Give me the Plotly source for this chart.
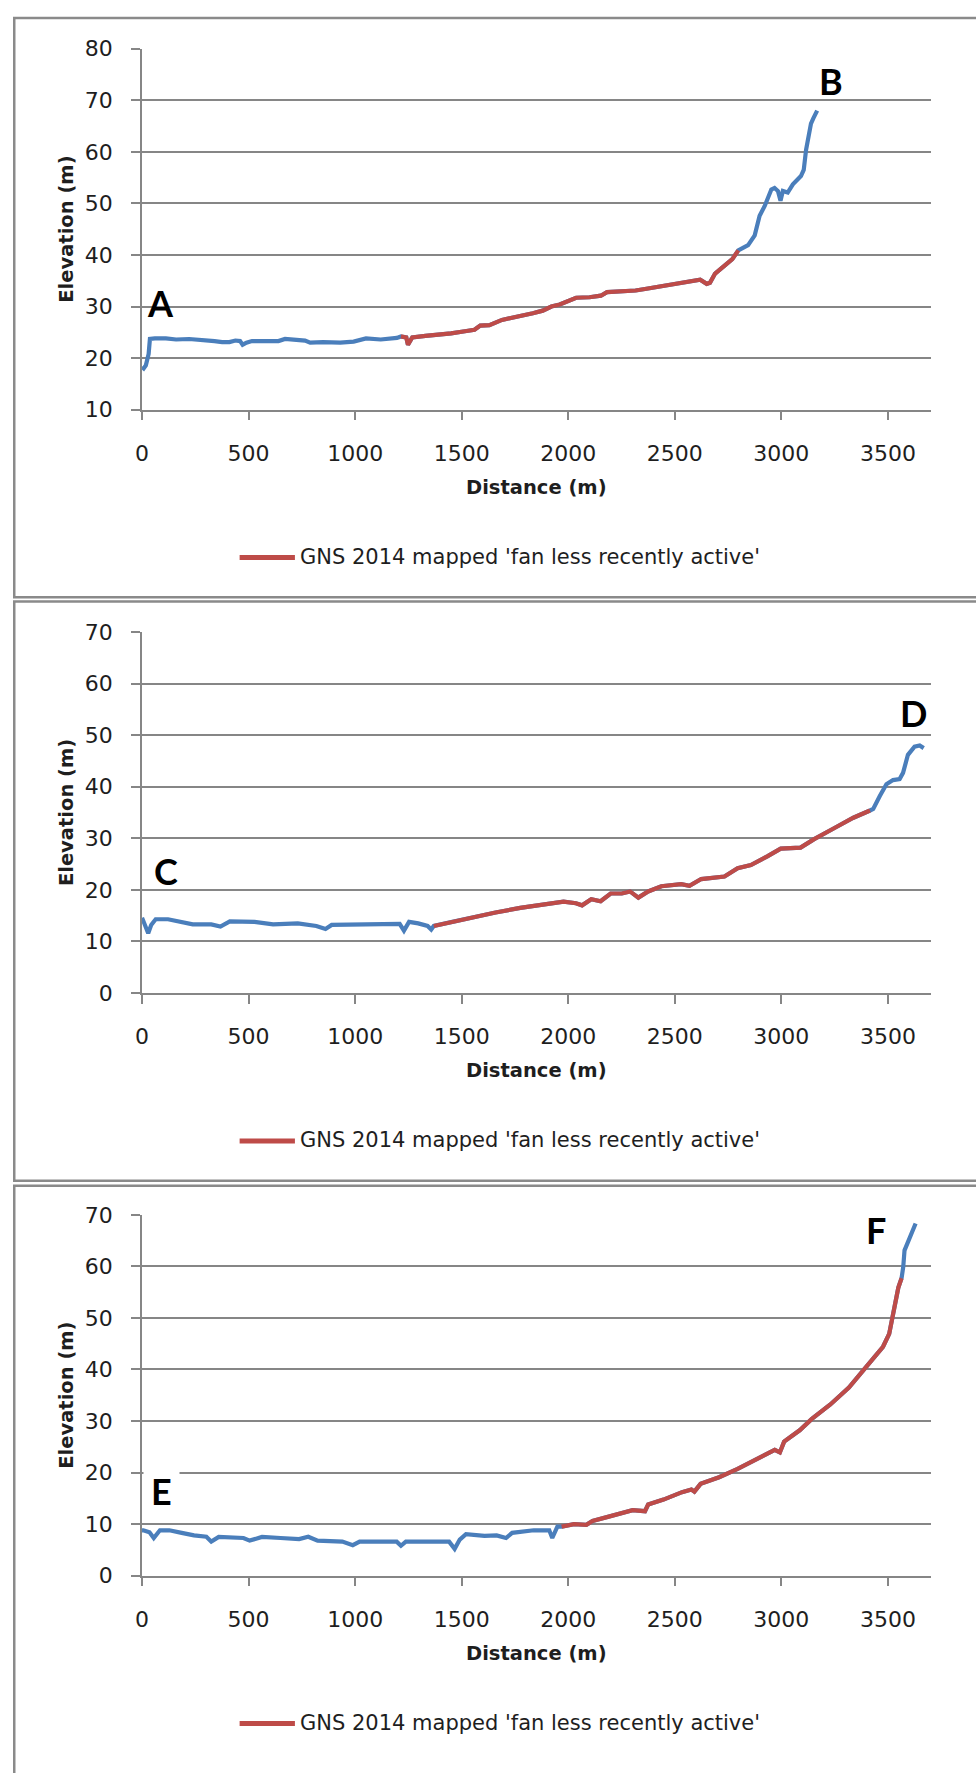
import plotly.graph_objects as go

# ---------------- data ----------------
# Profile A-B
dist_ab = [0, 8, 18, 31, 37, 60, 112, 160, 221, 260,
           298, 340, 376, 410, 438, 460, 472, 490, 516, 580,
           640, 671, 700, 731, 765, 789, 850, 930, 993, 1051,
           1120, 1196, 1215, 1225, 1240, 1248, 1268, 1330, 1399, 1450,
           1515, 1560, 1587, 1630, 1689, 1750, 1834, 1880, 1921, 1960,
           1994, 2037, 2100, 2153, 2182, 2230, 2269, 2316, 2360, 2420,
           2472, 2530, 2580, 2619, 2650, 2665, 2689, 2735, 2770, 2798,
           2844, 2875, 2898, 2922, 2953, 2968, 2984, 2996, 3007, 3030,
           3054, 3092, 3105, 3116, 3139, 3150, 3162, 3168]
elev_ab = [18.3, 18.0, 18.6, 20.8, 23.7, 23.8, 23.8, 23.6, 23.7, 23.6,
           23.4, 23.3, 23.1, 23.1, 23.4, 23.3, 22.6, 23.0, 23.3, 23.2,
           23.3, 23.7, 23.6, 23.4, 23.4, 23.0, 23.1, 23.0, 23.2, 23.8,
           23.6, 23.9, 24.2, 24.1, 24.0, 22.6, 24.0, 24.3, 24.5, 24.8,
           25.2, 25.5, 26.3, 26.4, 27.4, 27.9, 28.7, 29.2, 30.0, 30.4,
           30.9, 31.7, 31.8, 32.1, 32.8, 32.9, 33.1, 33.1, 33.4, 33.8,
           34.2, 34.6, 34.8, 35.2, 34.4, 34.6, 36.4, 38.0, 39.2, 40.9,
           41.9, 43.8, 47.6, 49.5, 52.7, 53.0, 52.4, 50.5, 52.4, 52.1,
           53.7, 55.3, 56.5, 60.4, 65.5, 66.5, 67.7, 68.0]
gns_ab = [1215, 2798]   # distance span mapped by GNS 2014

# Profile C-D
dist_cd = [0, 12, 29, 43, 64, 122, 180, 238, 325, 368,
           412, 528, 615, 731, 818, 861, 890, 992, 1108, 1209,
           1229, 1253, 1296, 1340, 1357, 1369, 1456, 1543, 1659, 1775,
           1891, 1978, 2036, 2065, 2108, 2152, 2199, 2251, 2290, 2329,
           2375, 2437, 2530, 2569, 2624, 2733, 2795, 2857, 2934, 2997,
           3090, 3152, 3245, 3338, 3416, 3431, 3462, 3493, 3524, 3555,
           3571, 3594, 3625, 3649, 3668]
elev_cd = [14.6, 13.4, 11.6, 13.2, 14.3, 14.3, 13.9, 13.3, 13.3, 12.9,
           13.9, 13.8, 13.3, 13.5, 13.0, 12.4, 13.2, 13.2, 13.4, 13.4,
           12.1, 13.8, 13.5, 13.0, 12.3, 13.0, 13.8, 14.6, 15.6, 16.5,
           17.3, 17.7, 17.4, 17.0, 18.2, 17.8, 19.3, 19.3, 19.7, 18.5,
           19.7, 20.7, 21.1, 20.8, 22.1, 22.6, 24.2, 24.8, 26.5, 28.0,
           28.2, 29.8, 31.9, 34.0, 35.4, 35.7, 38.2, 40.5, 41.3, 41.5,
           42.7, 46.2, 47.8, 48.0, 47.5]
gns_cd = [1365, 3420]

# Profile E-F
dist_ef = [0, 6, 35, 55, 84, 128, 186, 244, 302, 325,
           360, 476, 505, 563, 650, 737, 780, 824, 940, 989,
           1021, 1195, 1215, 1238, 1398, 1441, 1467, 1491, 1520, 1607,
           1664, 1708, 1737, 1838, 1911, 1925, 1949, 1969, 2027, 2085,
           2114, 2186, 2273, 2302, 2360, 2375, 2447, 2534, 2578, 2592,
           2621, 2708, 2795, 2882, 2969, 2993, 3013, 3086, 3143, 3230,
           3317, 3404, 3477, 3506, 3535, 3549, 3564, 3572, 3578, 3601,
           3630]
elev_ef = [8.8, 8.8, 8.4, 7.3, 8.8, 8.8, 8.3, 7.8, 7.55, 6.6,
           7.5, 7.3, 6.8, 7.5, 7.3, 7.1, 7.55, 6.8, 6.6, 5.9,
           6.6, 6.6, 5.8, 6.6, 6.6, 6.6, 5.2, 7.0, 8.05, 7.7,
           7.8, 7.3, 8.3, 8.8, 8.8, 7.3, 9.5, 9.5, 10.0, 9.85,
           10.6, 11.4, 12.4, 12.7, 12.5, 13.8, 14.75, 16.2, 16.7, 16.3,
           17.8, 19.1, 20.7, 22.45, 24.4, 23.9, 26.0, 28.2, 30.4, 33.2,
           36.5, 40.8, 44.4, 46.9, 52.7, 55.9, 57.7, 59.9, 63.1, 65.25,
           68.3]
gns_ef = [1960, 3566]

x_ticks = [0, 500, 1000, 1500, 2000, 2500, 3000, 3500]
y_ranges = [[10, 80], [0, 70], [0, 70]]
start_labels = ["A", "C", "E"]
end_labels = ["B", "D", "F"]
label_start_pos = [[88, 30.7], [112, 23.6], [90, 16.5]]
label_end_pos = [[3233, 73.75], [3620, 54.4], [3446, 67.1]]
legend_name = "GNS 2014 mapped 'fan less recently active'"
x_title = "Distance (m)"
y_title = "Elevation (m)"

# ---------------- styling ----------------
W, H = 976, 1773
BLUE = "#4A7EBB"
RED = "#BE4B48"
GRID = "#868686"
TXT = "#1e1e1e"
TICKFONT = dict(family="DejaVu Sans", size=22, color=TXT)


def px(x):
    return x / W


def py(y):
    return 1 - y / H


panel_offset = [0, 591.7, 1182.7]   # vertical pixel offset of each panel
frame_top = [6.0, 598.0, 1190.6]
frame_bot = [593.5, 1185.5, H + 20]
plot_top, plot_bot = 37.3, 403.3
x_left, x_right = 136.0, 930.2

profiles = [(dist_ab, elev_ab, gns_ab), (dist_cd, elev_cd, gns_cd), (dist_ef, elev_ef, gns_ef)]

fig = go.Figure()
shapes = []
annotations = []

for i, (d, e, span) in enumerate(profiles):
    assert len(d) == len(e)
    n = "" if i == 0 else str(i + 1)
    xa, ya = "x" + n, "y" + n
    off = panel_offset[i]
    fig.add_trace(go.Scatter(x=d, y=e, mode="lines", xaxis=xa, yaxis=ya,
                             line=dict(color=BLUE, width=4.2), name="Profile",
                             showlegend=False, hoverinfo="x+y"))
    rd = [v for v in d if span[0] <= v <= span[1]]
    re_ = [e[k] for k, v in enumerate(d) if span[0] <= v <= span[1]]
    fig.add_trace(go.Scatter(x=rd, y=re_, mode="lines", xaxis=xa, yaxis=ya,
                             line=dict(color=RED, width=4.2), name=legend_name,
                             showlegend=False, hoverinfo="x+y"))

    fig.update_layout(**{
        "xaxis" + n: dict(domain=[px(x_left), px(x_right)], range=[0, 3700],
                          tickvals=x_ticks, showgrid=False, zeroline=False,
                          showline=True, linecolor=GRID, linewidth=1.5,
                          ticks="outside", ticklen=9, tickcolor=GRID, tickwidth=1.5,
                          tickfont=TICKFONT, anchor=ya, ticklabelstandoff=14),
        "yaxis" + n: dict(domain=[py(plot_bot + off), py(plot_top + off)],
                          range=y_ranges[i], dtick=10, tick0=0,
                          showgrid=True, gridcolor=GRID, gridwidth=1.5,
                          zeroline=False, showline=True, linecolor=GRID, linewidth=1.5,
                          ticks="outside", ticklen=9, tickcolor=GRID, tickwidth=1.5,
                          tickfont=TICKFONT, anchor=xa, ticklabelstandoff=14),
    })

    # panel frame
    shapes.append(dict(type="rect", xref="paper", yref="paper",
                       x0=px(7.3), x1=px(W + 20), y0=py(frame_bot[i]), y1=py(frame_top[i]),
                       line=dict(color="#8a8a8a", width=2.5), fillcolor="rgba(0,0,0,0)",
                       layer="above"))

    # axis titles
    annotations.append(dict(text=y_title, xref="paper", yref="paper",
                            x=px(60), y=py((plot_top + plot_bot) / 2 + off),
                            textangle=-90, showarrow=False, xanchor="center", yanchor="middle",
                            font=dict(family="DejaVu Sans", size=19.5, color=TXT, weight="bold")))
    annotations.append(dict(text=x_title, xref="paper", yref="paper",
                            x=px((x_left + x_right) / 2), y=py(482 + off),
                            showarrow=False, xanchor="center", yanchor="middle",
                            font=dict(family="DejaVu Sans", size=19.5, color=TXT, weight="bold")))

    # legend entry (one per panel)
    ly = 553.4 + off
    shapes.append(dict(type="line", xref="paper", yref="paper",
                       x0=px(234.3), x1=px(290), y0=py(ly), y1=py(ly),
                       line=dict(color=RED, width=5)))
    annotations.append(dict(text=legend_name, xref="paper", yref="paper",
                            x=px(293.5), y=py(ly - 1), xanchor="left", yanchor="middle",
                            showarrow=False,
                            font=dict(family="DejaVu Sans", size=21, color=TXT)))

    # point labels
    lf = dict(family="Lato", size=36, color="black", weight="bold")
    sx, sy = label_start_pos[i]
    ex, ey = label_end_pos[i]
    bg_s = "white" if i == 2 else "rgba(0,0,0,0)"
    annotations.append(dict(text=start_labels[i], x=sx, y=sy, xref=xa, yref=ya,
                            showarrow=False, font=lf, bgcolor=bg_s, borderpad=7))
    annotations.append(dict(text=end_labels[i], x=ex, y=ey, xref=xa, yref=ya,
                            showarrow=False, font=lf, bgcolor=bg_s, borderpad=3))

fig.update_layout(width=W, height=H, margin=dict(l=0, r=0, t=0, b=0),
                  paper_bgcolor="white", plot_bgcolor="white", showlegend=False,
                  shapes=shapes, annotations=annotations)

fig.write_html("out.html", config={"displayModeBar": False},
               post_script="document.body.style.margin='0';document.documentElement.style.margin='0';")
